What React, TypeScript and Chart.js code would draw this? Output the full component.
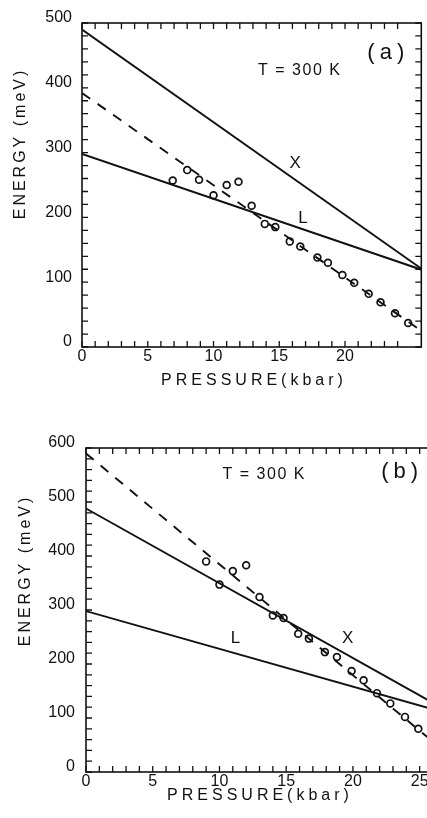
import React, { useEffect, useRef } from 'react';
import { Chart, registerables } from 'chart.js';

Chart.register(...registerables);

// ---------- data ----------
const linePressure = [0, 26];

// panel (a)
const xValleyA = [490, 118];
const lValleyA = [298, 118];
const fitA = [392, 22];
const pressureA = [6.9, 8.0, 8.9, 10.0, 11.0, 11.9, 12.9, 13.9, 14.7, 15.8, 16.6, 17.9, 18.7, 19.8, 20.7, 21.8, 22.7, 23.8, 24.8];
const energyA = [257, 273, 258, 234, 250, 255, 218, 190, 185, 163, 155, 138, 130, 111, 99, 82, 69, 52, 37];

// panel (b)
const xValleyB = [488, 128];
const lValleyB = [298, 116];
const fitB = [590, 56];
const pressureB = [9.0, 10.0, 11.0, 12.0, 13.0, 14.0, 14.8, 15.9, 16.7, 17.9, 18.8, 19.9, 20.8, 21.8, 22.8, 23.9, 24.9];
const energyB = [390, 347, 372, 383, 324, 290, 285, 256, 247, 222, 213, 187, 170, 146, 127, 102, 80];

const xMajorLabels = [0, 5, 10, 15, 20, 25];
const yMajorStep = 100;

const xTitle = 'PRESSURE(kbar)';
const yTitle = 'ENERGY (meV)';

const FONT = "'Liberation Sans', Arial, Helvetica, sans-serif";
const INK = '#111111';

type Note = { text: string; x: number; y: number; size: number; spacing: number };

const notesA: Note[] = [
  { text: 'T = 300 K', x: 16.5, y: 426, size: 16, spacing: 1.5 },
  { text: '(a)', x: 23.1, y: 454, size: 22, spacing: 5 },
  { text: 'X', x: 16.2, y: 284, size: 17, spacing: 0 },
  { text: 'L', x: 16.8, y: 198, size: 17, spacing: 0 },
];
const notesB: Note[] = [
  { text: 'T = 300 K', x: 13.3, y: 550, size: 16, spacing: 1.5 },
  { text: '(b)', x: 23.5, y: 555, size: 22, spacing: 5 },
  { text: 'L', x: 11.2, y: 248, size: 17, spacing: 0 },
  { text: 'X', x: 19.6, y: 248, size: 17, spacing: 0 },
];

const pairs = (xs: number[], ys: number[]) => xs.map((x, i) => ({ x, y: ys[i] }));

type PanelCfg = {
  width: number;
  height: number;
  area: { left: number; top: number; right: number; bottom: number };
  xMax: number;
  yMax: number;
  yPad: number;
  lines: number[][];
  fit: number[];
  px: number[];
  py: number[];
  notes: Note[];
  xTitlePos: { x: number; y: number };
  yTitlePos: { x: number; y: number };
};

const framePlugin = {
  id: 'frameTicks',
  afterDraw(chart: any) {
    const { ctx, chartArea: a, scales } = chart;
    ctx.save();
    ctx.strokeStyle = INK;
    ctx.lineWidth = 1.6;
    ctx.strokeRect(a.left, a.top, a.right - a.left, a.bottom - a.top);
    ctx.lineWidth = 1.3;
    ctx.beginPath();
    const tl = 6;
    scales.x.ticks.forEach((t: any) => {
      if (!Number.isInteger(t.value)) return;
      const p = scales.x.getPixelForValue(t.value);
      ctx.moveTo(p, a.bottom);
      ctx.lineTo(p, a.bottom - tl);
      ctx.moveTo(p, a.top);
      ctx.lineTo(p, a.top + tl);
    });
    scales.y.ticks.forEach((t: any) => {
      if (t.value % 20 !== 0) return;
      const p = scales.y.getPixelForValue(t.value);
      ctx.moveTo(a.left, p);
      ctx.lineTo(a.left + tl, p);
      ctx.moveTo(a.right, p);
      ctx.lineTo(a.right - tl, p);
    });
    ctx.stroke();
    ctx.restore();
  },
};

const textPlugin = {
  id: 'panelTexts',
  afterDraw(chart: any) {
    const cfg: PanelCfg = chart.options.plugins.panelTexts.cfg;
    const { ctx, scales } = chart;
    ctx.save();
    ctx.fillStyle = INK;
    ctx.textAlign = 'center';
    ctx.textBaseline = 'middle';
    cfg.notes.forEach((n) => {
      ctx.font = `${n.size}px ${FONT}`;
      (ctx as any).letterSpacing = `${n.spacing}px`;
      ctx.fillText(n.text, scales.x.getPixelForValue(n.x) + n.spacing / 2, scales.y.getPixelForValue(n.y));
    });
    ctx.font = `16px ${FONT}`;
    (ctx as any).letterSpacing = '4px';
    ctx.textBaseline = 'alphabetic';
    ctx.fillText(xTitle, cfg.xTitlePos.x + 2, cfg.xTitlePos.y);
    ctx.translate(cfg.yTitlePos.x, cfg.yTitlePos.y);
    ctx.rotate(-Math.PI / 2);
    (ctx as any).letterSpacing = '3px';
    ctx.fillText(yTitle, 1.5, 0);
    ctx.restore();
  },
};

function buildChart(canvas: HTMLCanvasElement, cfg: PanelCfg) {
  const lineDs = (ys: number[], dash: number[]) => ({
    type: 'scatter' as const,
    data: pairs(linePressure, ys),
    showLine: true,
    borderColor: INK,
    borderWidth: 1.9,
    borderDash: dash,
    pointRadius: 0,
    pointHoverRadius: 0,
  });
  return new Chart(canvas, {
    type: 'scatter',
    data: {
      datasets: [
        {
          data: pairs(cfg.px, cfg.py),
          showLine: false,
          pointRadius: 3.4,
          pointBorderWidth: 1.7,
          borderColor: INK,
          backgroundColor: 'rgba(255,255,255,0)',
        } as any,
        lineDs(cfg.lines[0], []),
        lineDs(cfg.lines[1], []),
        lineDs(cfg.fit, [10, 9]),
      ],
    },
    options: {
      responsive: false,
      animation: false,
      devicePixelRatio: 1,
      layout: {
        padding: { left: 0, top: cfg.area.top, right: cfg.width - cfg.area.right, bottom: 0 },
      },
      plugins: {
        legend: { display: false },
        tooltip: { enabled: false },
        panelTexts: { cfg },
      } as any,
      scales: {
        x: {
          type: 'linear',
          min: 0,
          max: cfg.xMax,
          grid: { display: false, drawTicks: false },
          border: { display: false },
          ticks: {
            stepSize: 1,
            autoSkip: false,
            maxRotation: 0,
            minRotation: 0,
            padding: 0,
            color: INK,
            font: { family: FONT, size: 16 },
            callback: (v: any) => (xMajorLabels.includes(Number(v)) ? String(v) : ''),
          },
          afterFit: (s: any) => {
            s.height = cfg.height - cfg.area.bottom;
          },
        },
        y: {
          type: 'linear',
          min: 0,
          max: cfg.yMax,
          grid: { display: false, drawTicks: false },
          border: { display: false },
          ticks: {
            stepSize: 20,
            autoSkip: false,
            padding: cfg.yPad,
            labelOffset: -5,
            color: INK,
            font: { family: FONT, size: 16 },
            callback: (v: any) => (Number(v) % yMajorStep === 0 ? String(v) : ''),
          },
          afterFit: (s: any) => {
            s.width = cfg.area.left;
          },
        },
      },
    },
    plugins: [framePlugin, textPlugin],
  } as any);
}

const panelA: PanelCfg = {
  width: 427,
  height: 400,
  area: { left: 82, top: 23, right: 426, bottom: 347 },
  xMax: 25.8,
  yMax: 500,
  yPad: 10,
  lines: [xValleyA, lValleyA],
  fit: fitA,
  px: pressureA,
  py: energyA,
  notes: notesA,
  xTitlePos: { x: 252, y: 385 },
  yTitlePos: { x: 25, y: 145 },
};

const panelB: PanelCfg = {
  width: 440,
  height: 418,
  area: { left: 86, top: 48, right: 433, bottom: 372 },
  xMax: 26,
  yMax: 600,
  yPad: 11,
  lines: [xValleyB, lValleyB],
  fit: fitB,
  px: pressureB,
  py: energyB,
  notes: notesB,
  xTitlePos: { x: 258, y: 400 },
  yTitlePos: { x: 30, y: 172 },
};

function Panel({ cfg, top }: { cfg: PanelCfg; top: number }) {
  const ref = useRef<HTMLCanvasElement | null>(null);
  useEffect(() => {
    if (!ref.current) return;
    const chart = buildChart(ref.current, cfg);
    return () => chart.destroy();
  }, [cfg]);
  return (
    <canvas
      ref={ref}
      width={cfg.width}
      height={cfg.height}
      style={{ position: 'absolute', left: 0, top, width: cfg.width, height: cfg.height }}
    />
  );
}

export default function App() {
  return (
    <div
      style={{
        position: 'absolute',
        left: 0,
        top: 0,
        width: 427,
        height: 818,
        overflow: 'hidden',
        background: '#fff',
      }}
    >
      <Panel cfg={panelA} top={0} />
      <Panel cfg={panelB} top={400} />
    </div>
  );
}
